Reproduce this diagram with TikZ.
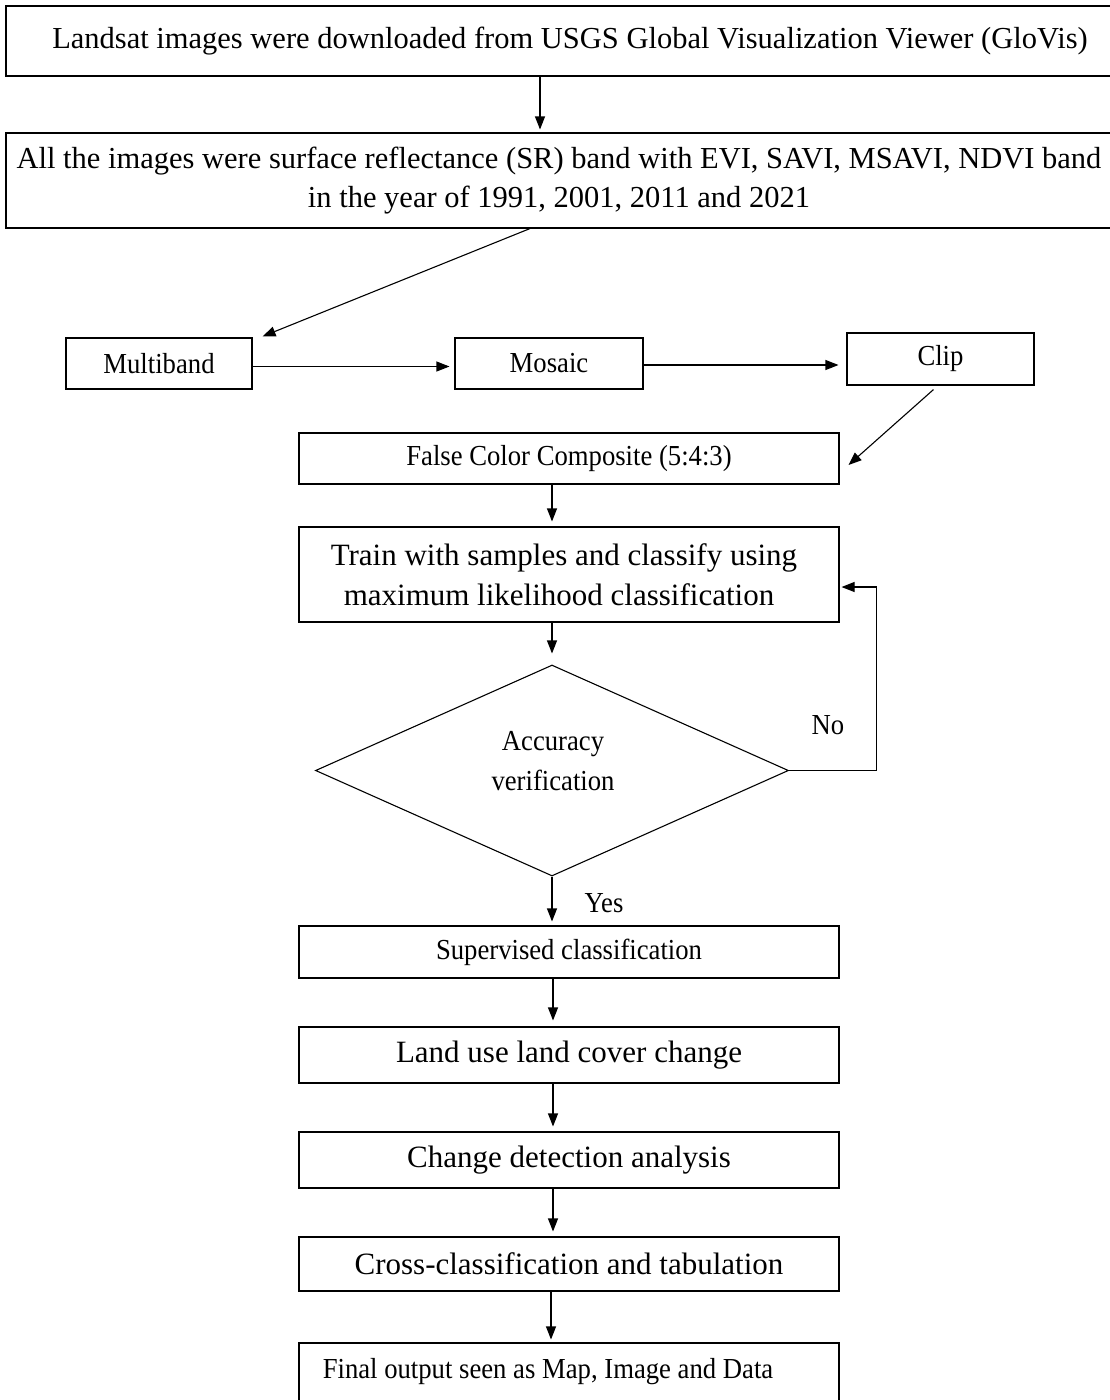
\documentclass[tikz,border=0pt]{standalone}
\usepackage{fontspec}
\setmainfont{Liberation Serif}
\newfontfamily\fA{Liberation Serif}
\newfontfamily\fB{Liberation Serif}
\newfontfamily\fC[FakeStretch=0.92]{Liberation Serif}
\usetikzlibrary{arrows.meta,shapes.geometric}
\tikzset{
  box/.style={draw, line width=1.1pt, inner sep=0pt, align=center},
  txtA/.style={font=\fA\fontsize{30.5}{39}\selectfont},
  txtB/.style={font=\fB\fontsize{31}{40}\selectfont},
  txtC/.style={font=\fC\fontsize{29}{40}\selectfont},
  arr/.style={line width=1.1pt, -{Triangle[length=13pt,width=10pt]}},
}
\begin{document}
\begin{tikzpicture}[x=1pt,y=-1pt]
\useasboundingbox (0,0) rectangle (1110,1400);
% top boxes
\node[box, txtA, minimum width=1106pt, minimum height=70pt] (b1) at (559,41)
  {\hspace*{22pt}Landsat images were downloaded from USGS Global Visualization Viewer (GloVis)};
\node[box, txtA, minimum width=1106pt, minimum height=95pt] (b2) at (559,180.5)
  {All the images were surface reflectance (SR) band with EVI, SAVI, MSAVI, NDVI band\\in the year of 1991, 2001, 2011 and 2021};
% row
\node[box, txtC, minimum width=186pt, minimum height=51pt] (multi) at (159,363.5) {Multiband};
\node[box, txtC, minimum width=188pt, minimum height=51pt] (mosaic) at (549,363.5) {Mosaic};
\node[box, txtC, minimum width=187pt, minimum height=52pt] (clip) at (940.5,359) {Clip};
% column
\node[box, txtC, minimum width=540pt, minimum height=51pt] (fcc) at (569,458.5) {False Color Composite (5:4:3)};
\node[box, txtB, minimum width=540pt, minimum height=95pt] (train) at (569,574.5)
  {Train with samples and classify using\hspace*{10pt}\\maximum likelihood classification\hspace*{20pt}};
\node[draw, line width=1.1pt, shape=diamond, inner sep=0pt, minimum width=473pt, minimum height=211pt] (dia) at (552,770.5) {};
\node[txtC, align=center, inner sep=0pt] (acc) at (553,761) {Accuracy\\verification};
\node[txtC, inner sep=0pt] (no) at (828,725) {No};
\node[txtC, inner sep=0pt] (yes) at (604,903) {Yes};
\node[box, txtC, minimum width=540pt, minimum height=52pt] (sup) at (569,952) {Supervised classification};
\node[box, txtB, minimum width=540pt, minimum height=56pt] (land) at (569,1055) {Land use land cover change};
\node[box, txtB, minimum width=540pt, minimum height=56pt] (change) at (569,1160) {Change detection analysis};
\node[box, txtB, minimum width=540pt, minimum height=54pt] (cross) at (569,1264) {Cross-classification and tabulation};
\node[box, txtC, minimum width=540pt, minimum height=58pt] (final) at (569,1372) {Final output seen as Map, Image and Data\hspace*{42pt}};
% connectors
\draw[arr, shorten >=3pt] ([xshift=-19pt]b1.south) -- ([xshift=-19pt]b2.north);
\draw[arr] ([xshift=-29pt]b2.south) -- ([xshift=10pt,yshift=1pt]multi.north east);
\draw[arr, shorten >=5pt] ([yshift=-3pt]multi.east) -- ([yshift=-3pt]mosaic.west);
\draw[arr, shorten >=8pt] ([yshift=-1.5pt]mosaic.east) -- ([yshift=-1.5pt]mosaic.east -| clip.west);
\draw[arr] ([xshift=-7pt,yshift=-4pt]clip.south) -- ([xshift=9pt,yshift=-6.5pt]fcc.east);
\draw[arr, shorten >=5pt] ([xshift=-17pt]fcc.south) -- ([xshift=-17pt]train.north);
\draw[arr, shorten >=11pt] (dia.north |- train.south) -- (dia.north);
\draw[line width=1.1pt] (dia.east) -- ++(87,0) coordinate (lp);
\draw[arr, shorten >=2pt] (lp) |- ([yshift=-12.5pt]train.east);
\draw[arr, shorten >=4pt] (dia.south) -- (dia.south |- sup.north);
\draw[arr, shorten >=6pt] ([xshift=-16pt]sup.south) -- ([xshift=-16pt]land.north);
\draw[arr, shorten >=5pt] ([xshift=-16pt]land.south) -- ([xshift=-16pt]change.north);
\draw[arr, shorten >=5pt] ([xshift=-16pt]change.south) -- ([xshift=-16pt]cross.north);
\draw[arr, shorten >=3pt] ([xshift=-18pt]cross.south) -- ([xshift=-18pt]final.north);
\end{tikzpicture}
\end{document}
